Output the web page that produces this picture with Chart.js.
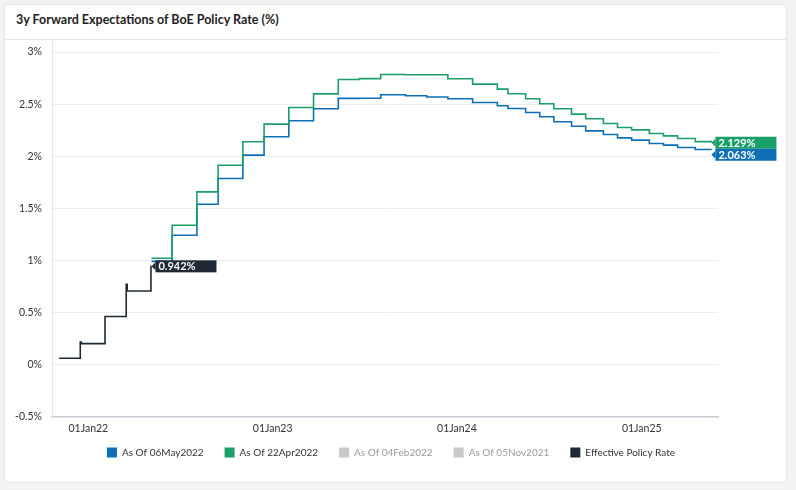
<!DOCTYPE html>
<html><head><meta charset="utf-8">
<script src="https://cdn.jsdelivr.net/npm/chart.js@4.4.1/dist/chart.umd.min.js"></script>
<style>
html,body{margin:0;padding:0;background:#f1f3f5;width:796px;height:490px;overflow:hidden;font-family:Lato,sans-serif;}
#card{position:absolute;left:4px;top:4px;width:781px;height:477px;background:#fff;border:1px solid #e2e5e9;border-radius:4px;}
#title{position:absolute;left:16px;top:12px;font-weight:700;font-size:12.5px;color:#222;}
#sep{position:absolute;left:5px;top:39px;width:781px;height:1px;background:#e3e6ea;}
canvas{position:absolute;left:0;top:0;}
</style></head><body>
<div id="card"></div><div id="sep"></div>
<div id="title">3y Forward Expectations of BoE Policy Rate (%)</div>
<canvas id="c" width="796" height="490"></canvas>
<script>
const seriesNames = ['As Of 06May2022','As Of 22Apr2022','As Of 04Feb2022','As Of 05Nov2021','Effective Policy Rate'];
const xTickDates = ['2022-01-01','2023-01-01','2024-01-01','2025-01-01'];
const xTickLabels = ['01Jan22','01Jan23','01Jan24','01Jan25'];
const yTickValues = [-0.5, 0, 0.5, 1, 1.5, 2, 2.5, 3];
const curveDates = ['2022-05-06','2022-06-16','2022-08-04','2022-09-15','2022-11-03','2022-12-15',
  '2023-02-02','2023-03-23','2023-05-11','2023-06-22','2023-08-03','2023-09-21','2023-11-02','2023-12-14',
  '2024-02-01','2024-03-21','2024-04-11','2024-05-16','2024-06-13','2024-07-11','2024-08-15','2024-09-12',
  '2024-10-17','2024-11-14','2024-12-12','2025-01-16','2025-02-13','2025-03-13','2025-04-17','2025-05-19'];
const may06Values = [0.99,1.240,1.538,1.785,2.010,2.186,2.340,2.455,2.555,2.557,2.590,2.580,2.568,2.552,
  2.516,2.484,2.458,2.420,2.378,2.330,2.288,2.243,2.208,2.176,2.154,2.122,2.106,2.084,2.064,2.063];
const apr22Values = [1.02,1.337,1.657,1.913,2.138,2.308,2.468,2.598,2.737,2.745,2.785,2.782,2.782,2.744,
  2.692,2.644,2.600,2.551,2.503,2.455,2.404,2.359,2.314,2.276,2.253,2.218,2.195,2.170,2.140,2.129];
const effDates = ['2021-11-04','2021-12-16','2021-12-18','2022-02-03','2022-03-17','2022-03-19','2022-05-05','2022-05-06'];
const effValues = [0.06,0.215,0.2,0.46,0.77,0.705,0.942,0.942];
const axisStart = '2021-10-21', axisEnd = '2025-06-01';

const day0 = Date.UTC(2022,0,1);
const toDay = s => (Date.parse(s) - day0) / 86400000;
const pts = (dates, vals) => dates.map((d,i) => ({x: toDay(d), y: vals[i]}));

const BLUE = '#0e6fb7', GREEN = '#1a9f68', DARK = '#1e2935', GREY = '#c8c8c8';
const FONT = 'Lato';

const valueLabels = {
  id: 'valueLabels',
  afterDatasetsDraw(chart) {
    const ctx = chart.ctx;
    const items = [];
    chart.data.datasets.forEach((ds, i) => {
      if (!ds.endLabel || ds.hidden) return;
      const meta = chart.getDatasetMeta(i);
      const el = meta.data[meta.data.length - 1];
      const v = ds.data[ds.data.length - 1].y;
      items.push({x: el.x, y: el.y, color: ds.borderColor, text: v.toFixed(3) + '%'});
    });
    items.sort((a, b) => a.y - b.y);
    const h = 12;
    let prev = {};
    items.forEach(it => {
      let top = it.y - h / 2;
      const key = Math.round(it.x);
      if (prev[key] !== undefined && top < prev[key]) top = prev[key];
      prev[key] = top + h;
      const bx = it.x + 4, cy = top + h / 2, w = 61;
      ctx.save();
      ctx.fillStyle = it.color;
      ctx.fillRect(bx, top, w, h);
      ctx.beginPath();
      ctx.moveTo(bx - 4, cy); ctx.lineTo(bx, cy - 4); ctx.lineTo(bx, cy + 4); ctx.closePath();
      ctx.fill();
      ctx.fillStyle = '#fff';
      ctx.font = 'bold 11px ' + FONT;
      ctx.textBaseline = 'middle';
      ctx.fillText(it.text, bx + 3, cy + 0.5);
      ctx.restore();
    });
  }
};

const shiftLegend = {
  id: 'shiftLegend',
  afterLayout(chart) {
    const lg = chart.legend; const dx = 32, dy = 12;
    lg.left += dx; lg.right += dx;
    lg.top -= dy; lg.bottom -= dy;
  }
};

new Chart(document.getElementById('c'), {
  type: 'line',
  data: {
    datasets: [
      {label: seriesNames[0], data: pts(curveDates, may06Values), borderColor: BLUE, backgroundColor: BLUE, stepped: true, borderWidth: 1.6, pointRadius: 0, order: 3, endLabel: true},
      {label: seriesNames[1], data: pts(curveDates, apr22Values), borderColor: GREEN, backgroundColor: GREEN, stepped: true, borderWidth: 1.6, pointRadius: 0, order: 2, endLabel: true},
      {label: seriesNames[2], data: [], borderColor: GREY, backgroundColor: GREY, hidden: true, legendGrey: true},
      {label: seriesNames[3], data: [], borderColor: GREY, backgroundColor: GREY, hidden: true, legendGrey: true},
      {label: seriesNames[4], data: pts(effDates, effValues), borderColor: DARK, backgroundColor: DARK, stepped: true, borderWidth: 1.6, pointRadius: 0, order: 1, endLabel: true}
    ]
  },
  options: {
    responsive: false, animation: false, devicePixelRatio: 1,
    layout: {padding: {left: 0, top: 40, right: 78, bottom: 10.5}},
    plugins: {
      tooltip: {enabled: false},
      legend: {
        position: 'bottom',
        labels: {
          boxWidth: 10, boxHeight: 10, padding: 21,
          font: {family: FONT, size: 10},
          generateLabels(chart) {
            return chart.data.datasets.map((ds, i) => ({
              text: ds.label, fillStyle: ds.legendGrey ? GREY : ds.borderColor, strokeStyle: 'rgba(0,0,0,0)',
              lineWidth: 0, fontColor: ds.legendGrey ? '#9a9a9a' : '#333', hidden: false, datasetIndex: i
            }));
          }
        }
      }
    },
    scales: {
      x: {
        type: 'linear', min: toDay(axisStart), max: toDay(axisEnd),
        afterBuildTicks(s) { s.ticks = xTickDates.map(d => ({value: toDay(d)})); },
        afterFit(s) { s.height = 22; },
        grid: {display: false, drawTicks: false},
        border: {display: true, color: '#c6cbd3', width: 1.5},
        ticks: {
          padding: 6, maxRotation: 0, autoSkip: false, color: '#333', font: {family: FONT, size: 10.5},
          callback(v) { const i = xTickDates.findIndex(d => toDay(d) === v); return i >= 0 ? xTickLabels[i] : ''; }
        }
      },
      y: {
        min: -0.5, max: 3 + 12 / ((415 - 52) / 3.5),
        afterFit(s) { s.width = 52; },
        afterBuildTicks(s) { s.ticks = yTickValues.map(v => ({value: v})); },
        grid: {color: '#ededed', drawTicks: false},
        border: {display: true, color: '#e6e6e6'},
        ticks: {padding: 10, color: '#333', font: {family: FONT, size: 10.5}, callback: v => v + '%'}
      }
    }
  },
  plugins: [valueLabels, shiftLegend]
});
</script>
</body></html>
